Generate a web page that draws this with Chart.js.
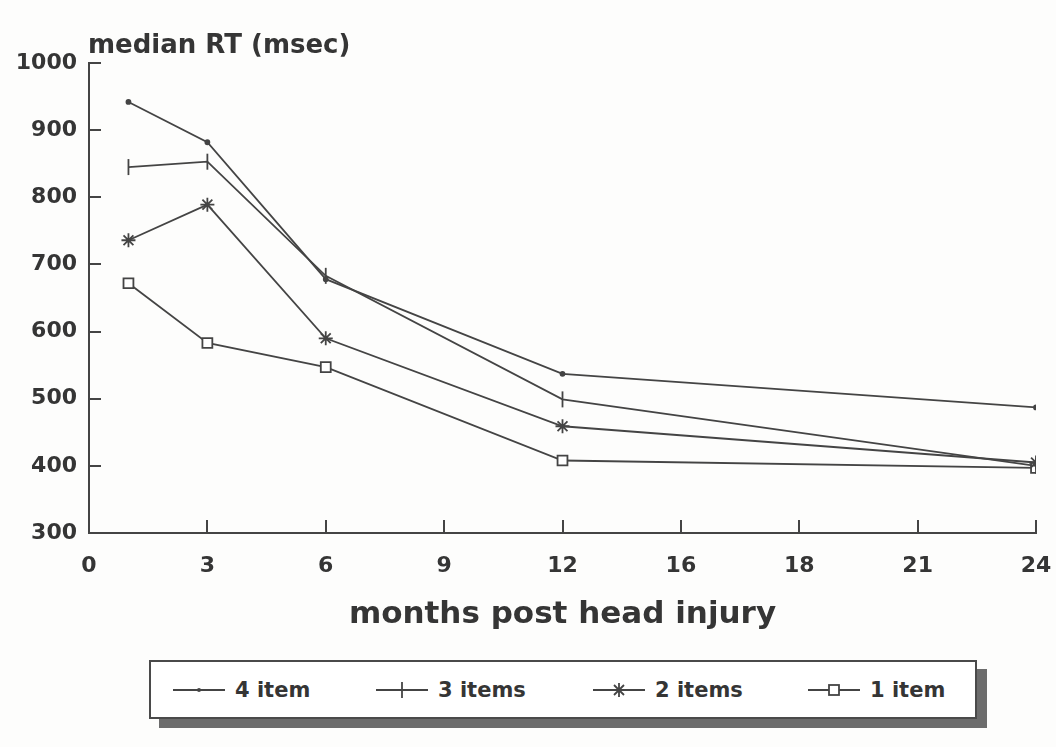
<!DOCTYPE html>
<html>
<head>
<meta charset="utf-8">
<script src="https://cdn.jsdelivr.net/npm/chart.js@4.4.1/dist/chart.umd.min.js"></script>
<style>
  html, body { margin: 0; padding: 0; background: #fdfdfc; }
  body { width: 1056px; height: 747px; position: relative; overflow: hidden;
         font-family: "DejaVu Sans", sans-serif; font-weight: bold; color: #353535; }
  #wrap { position: absolute; left: 0; top: 0; width: 1056px; height: 650px; }
  #ytitle { position: absolute; left: 88px; top: 29px; font-size: 26px; line-height: 30px; white-space: nowrap; }
  #legend { position: absolute; left: 149px; top: 660px; width: 824px; height: 55px;
            border: 2px solid #4a4a4a; background: #fff;
            box-shadow: 10px 9px 0 #6c6c6c; }
  .item { position: absolute; top: 0; height: 55px; display: flex; align-items: center; font-size: 21px; }
  .item svg { margin-right: 10px; }
</style>
</head>
<body>
<div id="wrap"><canvas id="c" width="1056" height="650"></canvas></div>
<div id="ytitle">median RT (msec)</div>
<div id="legend"></div>
<script>
// months after injury at which RT was measured
const months = [1, 3, 6, 12, 24];
// median reaction times (msec) per memory-set size
const rt4 = [942, 882, 678, 537, 487];
const rt3 = [845, 853, 683, 499, 400];
const rt2 = [736, 789, 590, 459, 405];
const rt1 = [672, 583, 547, 408, 397];
const seriesNames = ['4 item', '3 items', '2 items', '1 item'];
// x tick labels as printed on the axis
const xTickLabels = ['0', '3', '6', '9', '12', '16', '18', '21', '24'];
const yTicks = [300, 400, 500, 600, 700, 800, 900, 1000];

const INK = '#444444';
const TEXT = '#353535';
const styles = [
  { pointStyle: 'circle', radius: 2, rotation: 0, fill: INK },
  { pointStyle: 'line', radius: 8, rotation: 90, fill: INK },
  { pointStyle: 'star', radius: 7, rotation: 0, fill: INK },
  { pointStyle: 'rect', radius: 7, rotation: 0, fill: '#ffffff' }
];
const values = [rt4, rt3, rt2, rt1];

const datasets = values.map((v, i) => ({
  label: seriesNames[i],
  data: months.map((m, k) => ({ x: m, y: v[k] })),
  borderColor: INK,
  borderWidth: 1.8,
  pointStyle: styles[i].pointStyle,
  pointRadius: styles[i].radius,
  pointRotation: styles[i].rotation,
  pointBackgroundColor: styles[i].fill,
  pointBorderColor: INK,
  pointBorderWidth: 1.8,
  tension: 0
}));

// short tick marks drawn on the inside of both axes
const innerTicks = {
  id: 'innerTicks',
  afterDraw(chart) {
    const { ctx } = chart;
    const xs = chart.scales.x, ys = chart.scales.y;
    ctx.save();
    ctx.strokeStyle = INK;
    ctx.lineWidth = 2;
    ctx.beginPath();
    yTicks.forEach(v => {
      if (v === ys.min) return;
      const py = Math.round(ys.getPixelForValue(v));
      ctx.moveTo(xs.left, py);
      ctx.lineTo(xs.left + 12, py);
    });
    for (let m = 3; m <= 24; m += 3) {
      const px = Math.round(xs.getPixelForValue(m));
      ctx.moveTo(px, ys.bottom);
      ctx.lineTo(px, ys.bottom - 13);
    }
    ctx.stroke();
    ctx.restore();
  }
};

new Chart(document.getElementById('c'), {
  type: 'line',
  data: { datasets },
  options: {
    responsive: false,
    animation: false,
    layout: { padding: { top: 63, right: 20, left: 0, bottom: 0 } },
    plugins: { legend: { display: false }, tooltip: { enabled: false } },
    scales: {
      x: {
        type: 'linear', min: 0, max: 24,
        afterFit(s) { s.height = 117; s.paddingLeft = 0; s.paddingRight = 0; },
        afterBuildTicks(s) { s.ticks = xTickLabels.map((t, i) => ({ value: i * 3 })); },
        ticks: {
          autoSkip: false, maxRotation: 0, padding: 20, color: TEXT,
          font: { family: 'DejaVu Sans', weight: 'bold', size: 22 },
          callback: (v, i) => xTickLabels[i]
        },
        grid: { display: true, drawOnChartArea: false, drawTicks: false },
        border: { display: true, color: INK, width: 2 },
        title: {
          display: true, text: 'months post head injury', color: TEXT,
          font: { family: 'DejaVu Sans', weight: 'bold', size: 31 },
          padding: { top: 0, bottom: 16 }
        }
      },
      y: {
        min: 300, max: 1000,
        afterFit(s) { s.width = 89; s.paddingTop = 0; s.paddingBottom = 0; },
        afterBuildTicks(s) { s.ticks = yTicks.map(v => ({ value: v })); },
        ticks: {
          padding: 12, color: TEXT,
          font: { family: 'DejaVu Sans', weight: 'bold', size: 22 },
          callback: v => String(v)
        },
        grid: { display: true, drawOnChartArea: false, drawTicks: false },
        border: { display: true, color: INK, width: 2 }
      }
    }
  },
  plugins: [innerTicks]
});

// legend: line sample with the series marker, then its name
const legendLeft = [22, 225, 442, 657];
function markerSvg(i) {
  const s = styles[i];
  let mark = '';
  if (s.pointStyle === 'circle') mark = '<circle cx="26" cy="12" r="2" fill="' + INK + '"/>';
  if (s.pointStyle === 'line') mark = '<line x1="26" y1="4" x2="26" y2="20" stroke="' + INK + '" stroke-width="1.8"/>';
  if (s.pointStyle === 'star') mark = '<path d="M26 5V19M19 12H33M21 7L31 17M31 7L21 17" stroke="' + INK + '" stroke-width="1.8"/>';
  if (s.pointStyle === 'rect') mark = '<rect x="21" y="7" width="10" height="10" fill="#fff" stroke="' + INK + '" stroke-width="1.8"/>';
  return '<svg width="52" height="24"><line x1="0" y1="12" x2="52" y2="12" stroke="' + INK + '" stroke-width="1.8"/>' + mark + '</svg>';
}
const legend = document.getElementById('legend');
seriesNames.forEach((name, i) => {
  const d = document.createElement('div');
  d.className = 'item';
  d.style.left = legendLeft[i] + 'px';
  d.innerHTML = markerSvg(i) + '<span>' + name + '</span>';
  legend.appendChild(d);
});
</script>
</body>
</html>
